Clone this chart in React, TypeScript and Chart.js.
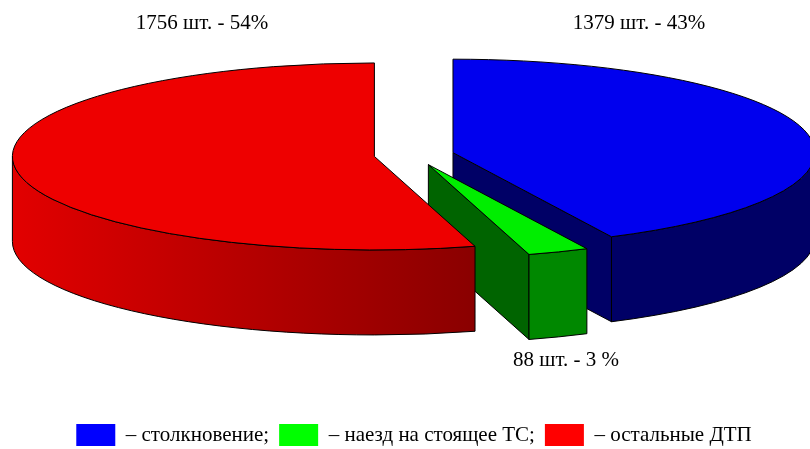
import { useEffect, useRef } from 'react';
import { Chart, registerables } from 'chart.js';

Chart.register(...registerables);

// ---- data ----
const categories = ['столкновение', 'наезд на стоящее ТС', 'остальные ДТП'];
const counts = [1379, 88, 1756];
const percentLabels = ['43%', '3 %', '54%'];

// ---- styles ----
const topColors = ['#0000EE', '#00EE00', '#EE0000'];
const wallFrom = ['#000066', '#008800', '#E20000'];
const wallTo = ['#000066', '#008800', '#8A0000'];
const cutColors = ['#000066', '#006400', '#8A0000'];
const legendColors = ['#0000FF', '#00FF00', '#FF0000'];

// ---- layout ----
const W = 810;
const H = 449;
const CX = 414;
const CY = 155;
const RX = 362;
const RY = 93.5;
const K = RY / RX;
const DEPTH = 85;
const EXPLODE = 40;
const LABEL_POS = [
  [639, 23],
  [566, 360],
  [202, 23],
];
const FONT = "'Liberation Serif', 'Times New Roman', serif";

type Geo = { arc: any; a0: number; a1: number; ox: number; oy: number; i: number };

function rim(g: Geo, a: number, dy = 0) {
  return [g.ox + RX * Math.cos(a), g.oy + RY * Math.sin(a) + dy];
}

function drawSides(ctx: CanvasRenderingContext2D, g: Geo) {
  const { a0, a1, ox, oy, i } = g;
  ctx.save();
  ctx.lineWidth = 1;
  ctx.strokeStyle = '#000';
  ctx.lineJoin = 'round';
  const cutFace = (a: number) => {
    const p = rim(g, a);
    ctx.beginPath();
    ctx.moveTo(ox, oy);
    ctx.lineTo(p[0], p[1]);
    ctx.lineTo(p[0], p[1] + DEPTH);
    ctx.lineTo(ox, oy + DEPTH);
    ctx.closePath();
    ctx.fillStyle = cutColors[i];
    ctx.fill();
    ctx.stroke();
  };
  if (Math.cos(a1) > 1e-6) cutFace(a1);
  if (-Math.cos(a0) > 1e-6) cutFace(a0);
  for (const base of [-2 * Math.PI, 0, 2 * Math.PI]) {
    const s = Math.max(a0, base);
    const e = Math.min(a1, base + Math.PI);
    if (e - s <= 1e-6) continue;
    const xL = ox + RX * Math.cos(e);
    const xR = ox + RX * Math.cos(s);
    const grad = ctx.createLinearGradient(Math.min(xL, xR), 0, Math.max(xL, xR), 0);
    grad.addColorStop(0, wallFrom[i]);
    grad.addColorStop(1, wallTo[i]);
    ctx.beginPath();
    ctx.ellipse(ox, oy, RX, RY, 0, s, e, false);
    const pe = rim(g, e);
    ctx.lineTo(pe[0], pe[1] + DEPTH);
    ctx.ellipse(ox, oy + DEPTH, RX, RY, 0, e, s, true);
    ctx.closePath();
    ctx.fillStyle = grad;
    ctx.fill();
    ctx.stroke();
  }
  ctx.restore();
}

function drawTop(ctx: CanvasRenderingContext2D, g: Geo) {
  const arc = g.arc;
  const R = arc.outerRadius;
  ctx.save();
  ctx.translate(g.ox, g.oy);
  ctx.scale(RX / R, RY / R);
  ctx.translate(-arc.x, -arc.y);
  arc.draw(ctx);
  ctx.restore();
  ctx.save();
  ctx.lineWidth = 1;
  ctx.strokeStyle = '#000';
  ctx.lineJoin = 'round';
  ctx.beginPath();
  ctx.moveTo(g.ox, g.oy);
  ctx.ellipse(g.ox, g.oy, RX, RY, 0, g.a0, g.a1, false);
  ctx.closePath();
  ctx.stroke();
  ctx.restore();
}

const pie3d = {
  id: 'pie3d',
  beforeDatasetsDraw(chart: any) {
    const meta = chart.getDatasetMeta(0);
    const ctx: CanvasRenderingContext2D = chart.ctx;
    const geo: Geo[] = meta.data.map((arc: any, i: number) => {
      const a0 = arc.startAngle;
      const a1 = arc.endAngle;
      const mid = (a0 + a1) / 2;
      return {
        arc,
        a0,
        a1,
        ox: CX + Math.cos(mid) * EXPLODE,
        oy: CY + Math.sin(mid) * EXPLODE * K,
        i,
      };
    });
    for (const g of geo) drawSides(ctx, g);
    for (const g of geo) drawTop(ctx, g);
    return false;
  },
  afterDraw(chart: any) {
    const ctx: CanvasRenderingContext2D = chart.ctx;
    ctx.save();
    ctx.font = `21px ${FONT}`;
    ctx.fillStyle = '#000';
    ctx.textAlign = 'center';
    ctx.textBaseline = 'middle';
    counts.forEach((v, i) => {
      ctx.fillText(`${v} шт. - ${percentLabels[i]}`, LABEL_POS[i][0], LABEL_POS[i][1]);
    });
    ctx.restore();
  },
};

export default function App() {
  const ref = useRef<HTMLCanvasElement | null>(null);
  useEffect(() => {
    if (!ref.current) return;
    const chart = new Chart(ref.current, {
      type: 'pie',
      data: {
        labels: categories,
        datasets: [
          {
            data: counts,
            backgroundColor: topColors,
            borderWidth: 0,
          },
        ],
      },
      options: {
        responsive: false,
        animation: false,
        devicePixelRatio: 1,
        layout: { padding: { left: 18, bottom: -7 } },
        plugins: {
          tooltip: { enabled: false },
          legend: {
            position: 'bottom',
            labels: {
              boxWidth: 39,
              boxHeight: 22,
              padding: 10,
              color: '#000',
              font: { family: FONT, size: 21 },
              generateLabels: () =>
                categories.map((c, i) => ({
                  text: '– ' + c + (i < categories.length - 1 ? ';' : ''),
                  fillStyle: legendColors[i],
                  strokeStyle: legendColors[i],
                  lineWidth: 0,
                  hidden: false,
                  index: i,
                  datasetIndex: 0,
                })),
            },
          },
        },
      } as any,
      plugins: [pie3d as any],
    });
    return () => chart.destroy();
  }, []);
  return (
    <div style={{ position: 'fixed', left: 0, top: 0, width: W, height: H, background: '#fff' }}>
      <canvas ref={ref} width={W} height={H} style={{ display: 'block' }} />
    </div>
  );
}
